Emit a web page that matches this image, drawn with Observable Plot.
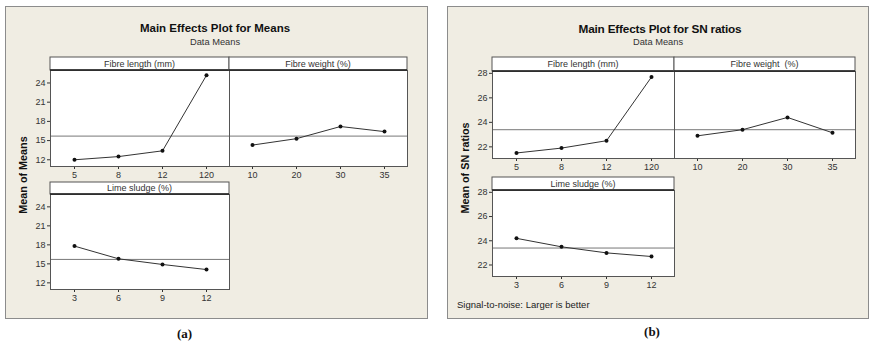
<!DOCTYPE html>
<html><head><meta charset="utf-8">
<script src="https://cdn.jsdelivr.net/npm/d3@7"></script>
<script src="https://cdn.jsdelivr.net/npm/@observablehq/plot@0.6"></script>
<style>
body{margin:0;background:#fff;}
#root{position:relative;width:870px;height:342px;overflow:hidden;font-family:"Liberation Sans",Arial,sans-serif;color:#111;}
.box{position:absolute;background:#f0ede3;border:1px solid #8c8c8c;box-sizing:border-box;}
.t{position:absolute;white-space:nowrap;transform:translate(-50%,-50%);line-height:1;}
.yl{position:absolute;white-space:nowrap;transform:translate(-50%,-50%) rotate(-90deg);font-weight:bold;font-size:10.8px;line-height:1;}
</style></head><body><div id="root"></div><script>
// ---- data ----
const fibreLengthLevels = ["5", "8", "12", "120"];
const fibreWeightLevels = ["10", "20", "30", "35"];
const limeSludgeLevels = ["3", "6", "9", "12"];

const meansFibreLength = [12.0, 12.5, 13.4, 25.2];
const meansFibreWeight = [14.3, 15.3, 17.2, 16.4];
const meansLimeSludge = [17.8, 15.8, 14.9, 14.1];
const meansGrand = 15.7;
const meansTicks = [12, 15, 18, 21, 24];

const snFibreLength = [21.5, 21.9, 22.5, 27.7];
const snFibreWeight = [22.9, 23.4, 24.4, 23.15];
const snLimeSludge = [24.2, 23.5, 23.0, 22.7];
const snGrand = 23.4;
const snTicks = [22, 24, 26, 28];

const root = document.getElementById("root");
function el(cls, text, x, y, style) {
  const d = document.createElement("div");
  d.className = cls; d.textContent = text;
  d.style.left = x + "px"; d.style.top = y + "px";
  Object.assign(d.style, style || {});
  root.append(d); return d;
}
function box(l, t, r, b) {
  const d = document.createElement("div");
  d.className = "box";
  Object.assign(d.style, {left: l + "px", top: t + "px", width: (r - l) + "px", height: (b - t) + "px"});
  root.append(d);
}

function panel(o) {
  const mL = o.showY ? 30 : 1, mR = 1, mB = 18;
  const stripH = o.stripBottom - o.stripTop;
  const dataH = o.bottom - o.stripBottom;
  const data = o.levels.map((l, i) => ({level: l, value: o.values[i]}));
  const strip = (index, scales, values, dims) => {
    const g = d3.create("svg:g");
    const x0 = dims.marginLeft, x1 = dims.width - dims.marginRight;
    g.append("rect").attr("x", x0).attr("y", 0).attr("width", x1 - x0).attr("height", stripH)
      .attr("fill", "white").attr("stroke", "#555");
    g.append("line").attr("x1", x0).attr("x2", x1).attr("y1", stripH).attr("y2", stripH)
      .attr("stroke", "#222").attr("stroke-width", 1.4);
    g.append("text").attr("x", (x0 + x1) / 2).attr("y", stripH / 2).attr("dy", "0.35em")
      .attr("text-anchor", "middle").attr("font-size", 9).attr("fill", "#333").text(o.label);
    return g.node();
  };
  const svg = Plot.plot({
    width: (o.right - o.left) + mL + mR,
    height: stripH + dataH + mB,
    marginLeft: mL, marginRight: mR, marginTop: stripH, marginBottom: mB,
    style: {background: "transparent", overflow: "visible", fontFamily: "'Liberation Sans', Arial, sans-serif", fontSize: "9px", color: "#333"},
    x: {type: "point", domain: o.levels, padding: 0.5, label: null, tickSize: 3, tickPadding: 2},
    y: {domain: o.domain, ticks: o.ticks, label: null, tickSize: 3, tickPadding: 2, axis: o.showY ? "left" : null},
    marks: [
      Plot.frame({fill: "white", stroke: null}),
      Plot.ruleY([o.grand], {stroke: "#777", strokeWidth: 1}),
      Plot.line(data, {x: "level", y: "value", stroke: "#333", strokeWidth: 1}),
      Plot.dot(data, {x: "level", y: "value", r: 2, fill: "#111", stroke: null}),
      Plot.frame({stroke: "#555"}),
      strip
    ]
  });
  svg.style.position = "absolute";
  svg.style.left = (o.left - mL) + "px";
  svg.style.top = o.stripTop + "px";
  root.append(svg);
}

// ---- chart (a) ----
box(5, 6, 428, 319);
el("t", "Main Effects Plot for Means", 215, 29, {fontWeight: "bold", fontSize: "11.5px"});
el("t", "Data Means", 215, 43, {fontSize: "9.3px", color: "#333"});
el("yl", "Mean of Means", 23, 175);
const mDom = [10.95, 25.95];
panel({levels: fibreLengthLevels, values: meansFibreLength, grand: meansGrand, domain: mDom, ticks: meansTicks,
  label: "Fibre length (mm)", left: 50, right: 229, stripTop: 57, stripBottom: 70, bottom: 166, showY: true});
panel({levels: fibreWeightLevels, values: meansFibreWeight, grand: meansGrand, domain: mDom, ticks: meansTicks,
  label: "Fibre weight (%)", left: 229, right: 407, stripTop: 57, stripBottom: 70, bottom: 166, showY: false});
panel({levels: limeSludgeLevels, values: meansLimeSludge, grand: meansGrand, domain: mDom, ticks: meansTicks,
  label: "Lime sludge (%)", left: 50, right: 229, stripTop: 182, stripBottom: 194, bottom: 289, showY: true});
el("t", "(a)", 184.5, 333, {fontFamily: "'Liberation Serif', 'Times New Roman', serif", fontWeight: "bold", fontSize: "13px"});

// ---- chart (b) ----
box(447, 6, 869, 319);
el("t", "Main Effects Plot for SN ratios", 660, 30, {fontWeight: "bold", fontSize: "11.8px", letterSpacing: "-0.2px"});
el("t", "Data Means", 658, 43, {fontSize: "9.3px", color: "#333"});
el("yl", "Mean of SN ratios", 465, 168);
const sDom = [21.05, 28.15];
panel({levels: fibreLengthLevels, values: snFibreLength, grand: snGrand, domain: sDom, ticks: snTicks,
  label: "Fibre length (mm)", left: 492, right: 674, stripTop: 57, stripBottom: 71, bottom: 158, showY: true});
panel({levels: fibreWeightLevels, values: snFibreWeight, grand: snGrand, domain: sDom, ticks: snTicks,
  label: "Fibre weight  (%)", left: 674, right: 855, stripTop: 57, stripBottom: 71, bottom: 158, showY: false});
panel({levels: limeSludgeLevels, values: snLimeSludge, grand: snGrand, domain: sDom, ticks: snTicks,
  label: "Lime sludge (%)", left: 492, right: 674, stripTop: 177, stripBottom: 190, bottom: 276, showY: true});
el("t", "Signal-to-noise: Larger is better", 457, 305, {fontSize: "9.5px", transform: "translate(0,-50%)", color: "#222"});
el("t", "(b)", 652, 331, {fontFamily: "'Liberation Serif', 'Times New Roman', serif", fontWeight: "bold", fontSize: "13px"});
</script></body></html>
